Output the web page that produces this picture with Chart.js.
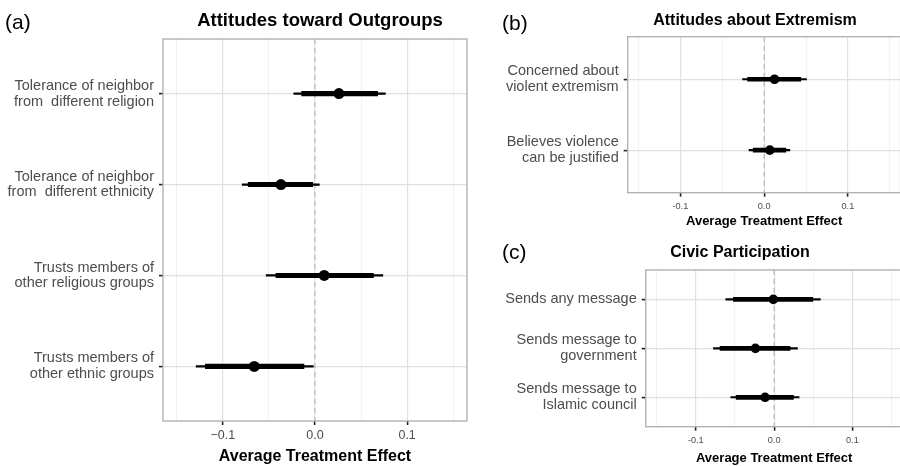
<!DOCTYPE html>
<html>
<head>
<meta charset="utf-8">
<script src="https://cdn.jsdelivr.net/npm/chart.js@4.4.1/dist/chart.umd.min.js"></script>
<style>
  html, body { margin: 0; padding: 0; overflow: hidden; background: #fff; }
  body { position: relative; width: 900px; height: 466px; font-family: "Liberation Sans", Arial, sans-serif; }
  canvas { position: absolute; }
  .tag { position: absolute; font-size: 21px; line-height: 1; color: #000; }
  .title { position: absolute; font-weight: bold; line-height: 1; color: #000; white-space: nowrap; transform: translateX(-50%); }
</style>
</head>
<body>
<canvas id="outgroups" width="480" height="466" style="left:0;top:0"></canvas>
<canvas id="extremism" width="422" height="230" style="left:480px;top:0"></canvas>
<canvas id="civic" width="424" height="236" style="left:480px;top:230px"></canvas>

<div class="tag" style="left:5px;top:11px">(a)</div>
<div class="title" style="left:320px;top:10.5px;font-size:18.5px">Attitudes toward Outgroups</div>
<div class="tag" style="left:502px;top:12px">(b)</div>
<div class="title" style="left:755px;top:11.7px;font-size:16px">Attitudes about Extremism</div>
<div class="tag" style="left:502px;top:241px">(c)</div>
<div class="title" style="left:740px;top:244px;font-size:16px">Civic Participation</div>

<script>
// (a) attitudes toward outgroups
const outgroupLabels = [
  ['Tolerance of neighbor', 'from  different religion'],
  ['Tolerance of neighbor', 'from  different ethnicity'],
  ['Trusts members of', 'other religious groups'],
  ['Trusts members of', 'other ethnic groups']
];
const outgroupEst = [0.026, -0.037, 0.010, -0.066];
const outgroupInnerLo = [-0.0145, -0.0725, -0.0424, -0.119];
const outgroupInnerHi = [0.068, -0.0025, 0.0634, -0.012];
const outgroupOuterLo = [-0.023, -0.079, -0.053, -0.129];
const outgroupOuterHi = [0.0764, 0.0047, 0.0736, -0.0018];

// (b) attitudes about extremism
const extremismLabels = [
  ['Concerned about', 'violent extremism'],
  ['Believes violence', 'can be justified']
];
const extremismEst = [0.0124, 0.0068];
const extremismInnerLo = [-0.0198, -0.0131];
const extremismInnerHi = [0.0438, 0.026];
const extremismOuterLo = [-0.0258, -0.018];
const extremismOuterHi = [0.0506, 0.0307];

// (c) civic participation
const civicLabels = [
  'Sends any message',
  ['Sends message to', 'government'],
  ['Sends message to', 'Islamic council']
];
const civicEst = [-0.001, -0.0239, -0.0115];
const civicInnerLo = [-0.052, -0.069, -0.0485];
const civicInnerHi = [0.0494, 0.0204, 0.0247];
const civicOuterLo = [-0.0617, -0.0775, -0.0553];
const civicOuterHi = [0.059, 0.0298, 0.0319];

const xTickValues = [-0.1, 0, 0.1];
const xGridValues = [-0.15, -0.1, -0.05, 0, 0.05, 0.1, 0.15];
const xTickLabelsA = ['\u22120.1', '0.0', '0.1'];
const xTickLabelsBC = ['-0.1', '0.0', '0.1'];

Chart.defaults.font.family = "'Liberation Sans', Arial, sans-serif";

const panelBorder = {
  id: 'panelBorder',
  beforeDatasetsDraw(chart) {
    const { ctx, chartArea: a } = chart;
    ctx.save();
    ctx.strokeStyle = '#b3b3b3';
    ctx.lineWidth = 1.4;
    ctx.strokeRect(a.left, a.top, a.right - a.left, a.bottom - a.top);
    ctx.restore();
  }
};

function isMajor(v) {
  return xTickValues.some(t => Math.abs(t - v) < 1e-9);
}

function drawPanel(id, p) {
  const n = p.labels.length;
  const rows = p.labels.map((_, i) => i + 1);
  const range = (lo, hi) => rows.map((y, i) => ({ x: [lo[i], hi[i]], y: y }));

  new Chart(document.getElementById(id), {
    type: 'bar',
    data: {
      datasets: [
        {
          type: 'line',
          data: [{ x: 0, y: 0.4 }, { x: 0, y: n + 0.6 }],
          borderColor: '#b8b8b8',
          borderWidth: 1.2,
          borderDash: [5, 4],
          pointRadius: 0,
          order: 4
        },
        {
          data: range(p.outerLo, p.outerHi),
          backgroundColor: '#000',
          barThickness: p.thin,
          grouped: false,
          order: 3
        },
        {
          data: range(p.innerLo, p.innerHi),
          backgroundColor: '#000',
          barThickness: p.thick,
          grouped: false,
          order: 2
        },
        {
          type: 'scatter',
          data: rows.map((y, i) => ({ x: p.est[i], y: y })),
          backgroundColor: '#000',
          borderWidth: 0,
          pointRadius: p.dot,
          order: 1
        }
      ]
    },
    options: {
      indexAxis: 'y',
      responsive: false,
      animation: false,
      events: [],
      layout: { autoPadding: false, padding: p.padding },
      plugins: { legend: { display: false }, tooltip: { enabled: false } },
      scales: {
        x: {
          type: 'linear',
          min: p.xMin,
          max: p.xMax,
          offset: false,
          afterBuildTicks: s => { s.ticks = xGridValues.map(v => ({ value: v })); },
          afterFit: s => { s.height = p.xAxisHeight; },
          border: { display: false },
          grid: {
            offset: false,
            color: c => (c.tick && isMajor(c.tick.value)) ? '#e0e0e0' : '#efefef',
            lineWidth: c => (c.tick && isMajor(c.tick.value)) ? 1.2 : 0.8,
            tickColor: c => (c.tick && isMajor(c.tick.value)) ? '#222' : 'rgba(0,0,0,0)',
            tickLength: 4,
            tickWidth: 1.6
          },
          ticks: {
            autoSkip: false,
            maxRotation: 0,
            padding: p.tickPad,
            color: '#4d4d4d',
            font: { size: p.tickSize },
            callback: v => {
              const k = xTickValues.findIndex(t => Math.abs(t - v) < 1e-9);
              return k < 0 ? '' : p.tickLabels[k];
            }
          },
          title: {
            display: true,
            text: 'Average Treatment Effect',
            color: '#000',
            font: { size: p.axisTitleSize, weight: 'bold' },
            padding: { top: 0, bottom: p.titlePadBottom }
          }
        },
        y: {
          type: 'linear',
          reverse: true,
          min: 0.4,
          max: n + 0.6,
          offset: false,
          afterBuildTicks: s => { s.ticks = rows.map(v => ({ value: v })); },
          afterFit: s => { s.width = p.yAxisWidth; },
          border: { display: false },
          grid: {
            offset: false,
            color: '#e0e0e0',
            lineWidth: 1.2,
            tickColor: '#222',
            tickLength: 4,
            tickWidth: 1.6
          },
          ticks: {
            autoSkip: false,
            padding: 5,
            color: '#4d4d4d',
            font: { size: 14.5, lineHeight: 1.1 },
            callback: v => p.labels[Math.round(v) - 1]
          }
        }
      }
    },
    plugins: [panelBorder]
  });
}

drawPanel('outgroups', {
  labels: outgroupLabels, est: outgroupEst,
  innerLo: outgroupInnerLo, innerHi: outgroupInnerHi,
  outerLo: outgroupOuterLo, outerHi: outgroupOuterHi,
  xMin: -0.165, xMax: 0.165, tickLabels: xTickLabelsA,
  padding: { top: 39, right: 13, bottom: 0, left: 0 },
  yAxisWidth: 163, xAxisHeight: 45,
  tickSize: 12.5, tickPad: 3.5, axisTitleSize: 16, titlePadBottom: 0,
  thick: 4.5, thin: 1.6, dot: 5.5
});

drawPanel('extremism', {
  labels: extremismLabels, est: extremismEst,
  innerLo: extremismInnerLo, innerHi: extremismInnerHi,
  outerLo: extremismOuterLo, outerHi: extremismOuterHi,
  xMin: -0.163, xMax: 0.163, tickLabels: xTickLabelsBC,
  padding: { top: 36.7, right: 1.4, bottom: 0, left: 0 },
  yAxisWidth: 147.7, xAxisHeight: 37.3,
  tickSize: 9.2, tickPad: 4.5, axisTitleSize: 13, titlePadBottom: 1.2,
  thick: 4, thin: 1.4, dot: 4.8
});

drawPanel('civic', {
  labels: civicLabels, est: civicEst,
  innerLo: civicInnerLo, innerHi: civicInnerHi,
  outerLo: civicOuterLo, outerHi: civicOuterHi,
  xMin: -0.164, xMax: 0.164, tickLabels: xTickLabelsBC,
  padding: { top: 40, right: 1.5, bottom: 0, left: 0 },
  yAxisWidth: 165.7, xAxisHeight: 39.3,
  tickSize: 9.2, tickPad: 4.4, axisTitleSize: 13, titlePadBottom: 0.2,
  thick: 4, thin: 1.4, dot: 4.8
});
</script>
</body>
</html>
